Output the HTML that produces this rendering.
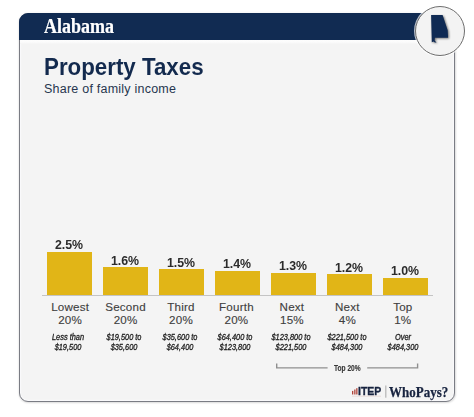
<!DOCTYPE html>
<html><head><meta charset="utf-8">
<style>
html,body{margin:0;padding:0;background:#fff;width:474px;height:417px;overflow:hidden;position:relative;font-family:"Liberation Sans",sans-serif;}
.abs{position:absolute;}
#card{position:absolute;left:19px;top:13px;width:434px;height:387px;border:1.2px solid #7a7c84;border-radius:9px;background:#f4f4f4;box-shadow:0.5px 1px 2px rgba(0,0,0,0.12), 0 0 3px rgba(0,0,0,0.06), inset 0 0 1px 1px #fafafc;}
#hdr{position:absolute;left:19px;top:13px;width:420px;height:26.5px;background:#112b52;border-radius:9px 0 0 0;}
#hdr2{position:absolute;left:20.2px;top:39.5px;width:420px;height:4.5px;background:linear-gradient(#fdfdfd 0%,#fbfbfb 55%,#f4f4f4 100%);}
.t{position:absolute;white-space:nowrap;}
.st{font-family:"Liberation Serif",serif;font-weight:bold;color:#fff;font-size:20.6px;left:44px;top:13.6px;line-height:24px;transform:scaleX(0.875);transform-origin:0 0;-webkit-text-stroke:0.2px #fff;}
.title{font-weight:bold;color:#132a4e;font-size:23.3px;left:44px;top:53.9px;line-height:26px;transform:scaleX(0.958);transform-origin:0 0;}
.sub{color:#26364f;font-size:12.5px;left:44px;top:82.2px;line-height:14px;letter-spacing:0.23px;}
.bar{position:absolute;background:#e1b517;width:45.2px;}
.val{position:absolute;width:80px;text-align:center;font-weight:bold;font-size:13px;color:#2b2b2b;line-height:14px;transform:scaleX(0.95);}
.lab{position:absolute;width:80px;text-align:center;font-size:11.6px;color:#404040;line-height:13.6px;letter-spacing:0.2px;-webkit-text-stroke:0.12px #404040;}
.inc{position:absolute;width:80px;text-align:center;font-style:italic;font-size:8.7px;color:#202020;line-height:9.8px;transform:scaleX(0.85);-webkit-text-stroke:0.3px #202020;}
#axis{position:absolute;left:41.6px;top:295px;width:391px;height:1px;background:#c4c4c4;}
#circle{position:absolute;left:414.5px;top:5.6px;width:48.4px;height:48.4px;border:1.4px solid #6e6e6e;border-radius:50%;background:#f3f3f3;box-shadow:0 0 0 1px rgba(255,255,255,0.7);}
</style></head><body>
<div id="card"></div>
<div id="hdr"></div>
<div id="hdr2"></div>
<div class="t st">Alabama</div>
<div class="t title">Property Taxes</div>
<div class="t sub">Share of family income</div>

<div id="axis"></div>
<div class="bar" style="left:47.20px;top:251.80px;height:43.50px"></div>
<div class="bar" style="left:103.10px;top:267.46px;height:27.84px"></div>
<div class="bar" style="left:159.00px;top:269.20px;height:26.10px"></div>
<div class="bar" style="left:214.90px;top:270.94px;height:24.36px"></div>
<div class="bar" style="left:270.80px;top:272.68px;height:22.62px"></div>
<div class="bar" style="left:326.70px;top:274.42px;height:20.88px"></div>
<div class="bar" style="left:382.60px;top:277.90px;height:17.40px"></div>
<div class="val" style="left:29.20px;top:238.10px">2.5%</div>
<div class="val" style="left:85.10px;top:253.76px">1.6%</div>
<div class="val" style="left:141.00px;top:255.50px">1.5%</div>
<div class="val" style="left:196.90px;top:257.24px">1.4%</div>
<div class="val" style="left:252.80px;top:258.98px">1.3%</div>
<div class="val" style="left:308.70px;top:260.72px">1.2%</div>
<div class="val" style="left:364.60px;top:264.20px">1.0%</div>
<div class="lab" style="left:30.10px;top:299.6px">Lowest<br>20%</div>
<div class="lab" style="left:85.55px;top:299.6px">Second<br>20%</div>
<div class="lab" style="left:141.00px;top:299.6px">Third<br>20%</div>
<div class="lab" style="left:196.45px;top:299.6px">Fourth<br>20%</div>
<div class="lab" style="left:251.90px;top:299.6px">Next<br>15%</div>
<div class="lab" style="left:307.35px;top:299.6px">Next<br>4%</div>
<div class="lab" style="left:362.80px;top:299.6px">Top<br>1%</div>
<div class="inc" style="left:27.70px;top:333.2px">Less than<br>$19,500</div>
<div class="inc" style="left:83.60px;top:333.2px">$19,500 to<br>$35,600</div>
<div class="inc" style="left:139.50px;top:333.2px">$35,600 to<br>$64,400</div>
<div class="inc" style="left:195.40px;top:333.2px">$64,400 to<br>$123,800</div>
<div class="inc" style="left:251.30px;top:333.2px">$123,800 to<br>$221,500</div>
<div class="inc" style="left:307.20px;top:333.2px">$221,500 to<br>$484,300</div>
<div class="inc" style="left:363.10px;top:333.2px">Over<br>$484,300</div>

<!-- bracket -->
<svg class="abs" style="left:0;top:0" width="474" height="417"><path d="M276.7,363.4 V367.9 H327.6 M367.2,367.9 H417.6 V363.6" fill="none" stroke="#8f8f8f" stroke-width="1.4"/></svg>
<div class="t" style="left:334.3px;top:363.3px;font-size:8.5px;font-weight:bold;color:#383838;line-height:10px;transform:scaleX(0.775);transform-origin:0 0;-webkit-text-stroke:0.15px #383838;">Top 20%</div>

<!-- circle + state -->
<div id="circle"></div>
<svg class="abs" style="left:0;top:0" width="474" height="417">
  <defs><filter id="sh" x="-20%" y="-20%" width="140%" height="140%"><feGaussianBlur stdDeviation="0.8"/></filter></defs>
  <path d="M432,16 L443.6,16 L448.7,31.2 L449.1,38.6 L435.9,38.6 L435.7,41.4 L437.5,43.6 L435.4,43.1 L434.6,42.3 L432.8,43.1 Z" fill="#000" opacity="0.55" filter="url(#sh)"/>
  <path d="M431.1,15.1 L442.6,15.1 L447.7,30.3 L448.1,37.7 L434.9,37.7 L434.7,40.6 L436.5,42.8 L434.4,42.3 L433.6,41.4 L431.8,42.2 Z" fill="#0f2a54"/>
</svg>

<!-- logo -->
<svg class="abs" style="left:0;top:0" width="474" height="417">
  <rect x="352" y="390.9" width="1.3" height="3.6" fill="#b0443a"/>
  <rect x="354.2" y="389.5" width="1.3" height="5" fill="#b0443a"/>
  <rect x="356.2" y="388.2" width="1.3" height="6.3" fill="#b0443a"/>
  <rect x="352" y="395.8" width="29" height="0.7" fill="#e4d2ce"/>
  <rect x="385.4" y="385.5" width="0.9" height="12.2" fill="#a0a0a0"/>
</svg>
<div class="t" style="left:357.8px;top:384.7px;font-size:11.4px;font-weight:bold;color:#17233f;line-height:12px;transform:scaleX(0.92);-webkit-text-stroke:0.35px #17233f;transform-origin:0 0;">ITEP</div>
<div class="t" style="left:389.4px;top:383.5px;font-family:'Liberation Serif',serif;font-size:14.6px;font-weight:bold;color:#17233f;line-height:16px;transform:scaleX(0.89);-webkit-text-stroke:0.25px #17233f;transform-origin:0 0;">WhoPays?</div>
</body></html>
